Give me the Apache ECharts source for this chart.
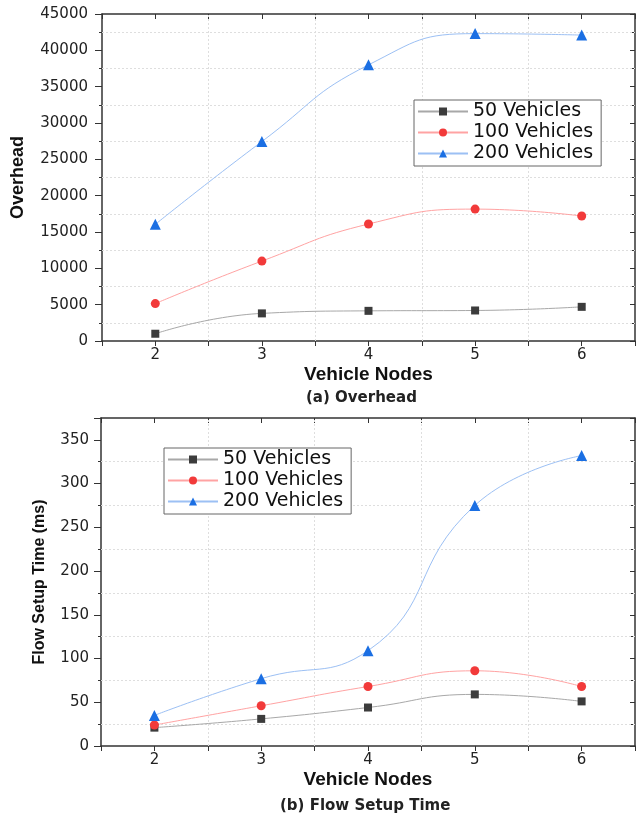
<!DOCTYPE html>
<html>
<head>
<meta charset="utf-8">
<title>Overhead and Flow Setup Time</title>
<script src="https://cdn.jsdelivr.net/npm/echarts@6/dist/echarts.min.js"></script>
<style>
  html, body { margin: 0; padding: 0; background: #fff; }
  #chart { width: 638px; height: 819px; }
</style>
</head>
<body>
<div id="chart"></div>
<script>
// x values (vehicle nodes)
const nodes = [2, 3, 4, 5, 6];
const seriesNames = ['50 Vehicles', '100 Vehicles', '200 Vehicles'];

// (a) overhead
const overhead50 = [1000, 3800, 4150, 4200, 4700];
const overhead100 = [5150, 11000, 16100, 18150, 17200];
const overhead200 = [16050, 27450, 38000, 42300, 42100];

// (b) flow setup time (ms)
const setup50 = [21, 31, 44, 59, 51];
const setup100 = [24, 46, 68, 86, 68];
const setup200 = [35, 77, 109, 275, 332];

// dotted grid lines sit at the half steps
const gridX = [2.5, 3.5, 4.5, 5.5];
const gridYOverhead = [2500, 7500, 12500, 17500, 22500, 27500, 32500, 37500, 42500];
const gridYSetup = [25, 75, 125, 175, 225, 275, 325];

const lineColors = ['#a8a8a8', '#ffa3a3', '#9cc0f4'];
const markColors = ['#3c3c3c', '#f23a3a', '#1b6fe3'];
const symbols = ['rect', 'circle', 'triangle'];
const symbolSizes = [8, 9, 11];

const axisColor = '#333';
const labelFont = 'DejaVu Sans';
const titleFont = 'Liberation Sans';

function pairs(ys) {
  return nodes.map((x, i) => [x, ys[i]]);
}

function makeSeries(values, gi, gridY) {
  return values.map((ys, i) => {
    const s = {
      name: seriesNames[i],
      type: 'line',
      xAxisIndex: gi * 2,
      yAxisIndex: gi * 2,
      data: pairs(ys),
      smooth: 0.5,
      symbol: symbols[i],
      symbolSize: symbolSizes[i],
      lineStyle: { color: lineColors[i], width: 1 },
      itemStyle: { color: markColors[i] },
      z: 3
    };
    if (i === 0) {
      s.markLine = {
        silent: true,
        symbol: 'none',
        z: 1,
        label: { show: false },
        lineStyle: { color: '#dedede', type: [2, 2], width: 1 },
        data: gridX.map(v => ({ xAxis: v })).concat(gridY.map(v => ({ yAxis: v })))
      };
    }
    return s;
  });
}

function xAxes(gi) {
  const base = {
    type: 'value',
    gridIndex: gi,
    min: 1.5,
    max: 6.5,
    interval: 0.5,
    splitLine: { show: false },
    axisLine: { onZero: false, lineStyle: { color: axisColor, width: 1.5 } }
  };
  return [
    Object.assign({}, base, {
      position: 'bottom',
      name: 'Vehicle Nodes',
      nameLocation: 'middle',
      nameGap: 24,
      nameTextStyle: { fontFamily: titleFont, fontWeight: 'bold', fontSize: 19, color: '#111' },
      axisTick: { show: true, length: 5, inside: false, lineStyle: { color: axisColor } },
      axisLabel: {
        margin: 7,
        fontFamily: labelFont,
        fontSize: 15,
        color: '#222',
        formatter: v => (v % 1 === 0 ? String(v) : '')
      }
    }),
    Object.assign({}, base, {
      position: 'top',
      axisTick: { show: true, length: 5, inside: true, lineStyle: { color: axisColor } },
      axisLabel: { show: false }
    })
  ];
}

function yAxes(gi, max, step, name, nameGap, nameSize, labelMargin) {
  const base = {
    type: 'value',
    gridIndex: gi,
    min: 0,
    max: max,
    interval: step,
    splitLine: { show: false },
    axisLine: { show: true, onZero: false, lineStyle: { color: axisColor, width: 1.5 } }
  };
  return [
    Object.assign({}, base, {
      position: 'left',
      name: name,
      nameLocation: 'middle',
      nameGap: nameGap,
      nameTextStyle: { fontFamily: titleFont, fontWeight: 'bold', fontSize: nameSize, color: '#111' },
      axisTick: { show: true, length: 7, lineStyle: { color: axisColor } },
      minorTick: { show: true, splitNumber: 2, length: 3, lineStyle: { color: axisColor } },
      axisLabel: {
        margin: labelMargin,
        fontFamily: labelFont,
        fontSize: 15,
        color: '#222',
        showMaxLabel: max % step === 0,
        formatter: v => String(v)
      }
    }),
    Object.assign({}, base, {
      position: 'right',
      axisTick: { show: true, length: 5, inside: true, lineStyle: { color: axisColor } },
      minorTick: { show: true, splitNumber: 2, length: 5, lineStyle: { color: axisColor } },
      axisLabel: { show: false }
    })
  ];
}

function legend(gi, left, top) {
  return {
    data: seriesNames,
    orient: 'vertical',
    left: left,
    top: top,
    itemWidth: 50,
    itemHeight: 10,
    itemGap: 2,
    padding: [2, 8, 3, 3],
    borderColor: '#666',
    borderWidth: 1,
    backgroundColor: '#fff',
    textStyle: { fontFamily: labelFont, fontSize: 19, color: '#111' },
    selectedMode: false
  };
}

const chart = echarts.init(document.getElementById('chart'), null, { renderer: 'canvas' });

chart.setOption({
  animation: false,
  backgroundColor: '#fff',
  title: [
    {
      text: '(a) Overhead',
      left: 306,
      top: 391,
      padding: 0,
      textStyle: { fontFamily: labelFont, fontWeight: 'bold', fontSize: 15, color: '#222' }
    },
    {
      text: '(b) Flow Setup Time',
      left: 280,
      top: 799,
      padding: 0,
      textStyle: { fontFamily: labelFont, fontWeight: 'bold', fontSize: 15, color: '#222' }
    }
  ],
  legend: [legend(0, 414, 100), legend(1, 164, 448)],
  grid: [
    { left: 102, right: 1, top: 14, height: 327 },
    { left: 101, right: 2, top: 418, height: 328 }
  ],
  xAxis: xAxes(0).concat(xAxes(1)),
  yAxis: yAxes(0, 45000, 5000, 'Overhead', 75, 18, 14).concat(
    yAxes(1, 375, 50, 'Flow Setup Time (ms)', 53, 16, 12)
  ),
  series: makeSeries([overhead50, overhead100, overhead200], 0, gridYOverhead).concat(
    makeSeries([setup50, setup100, setup200], 1, gridYSetup)
  )
});
</script>
</body>
</html>
